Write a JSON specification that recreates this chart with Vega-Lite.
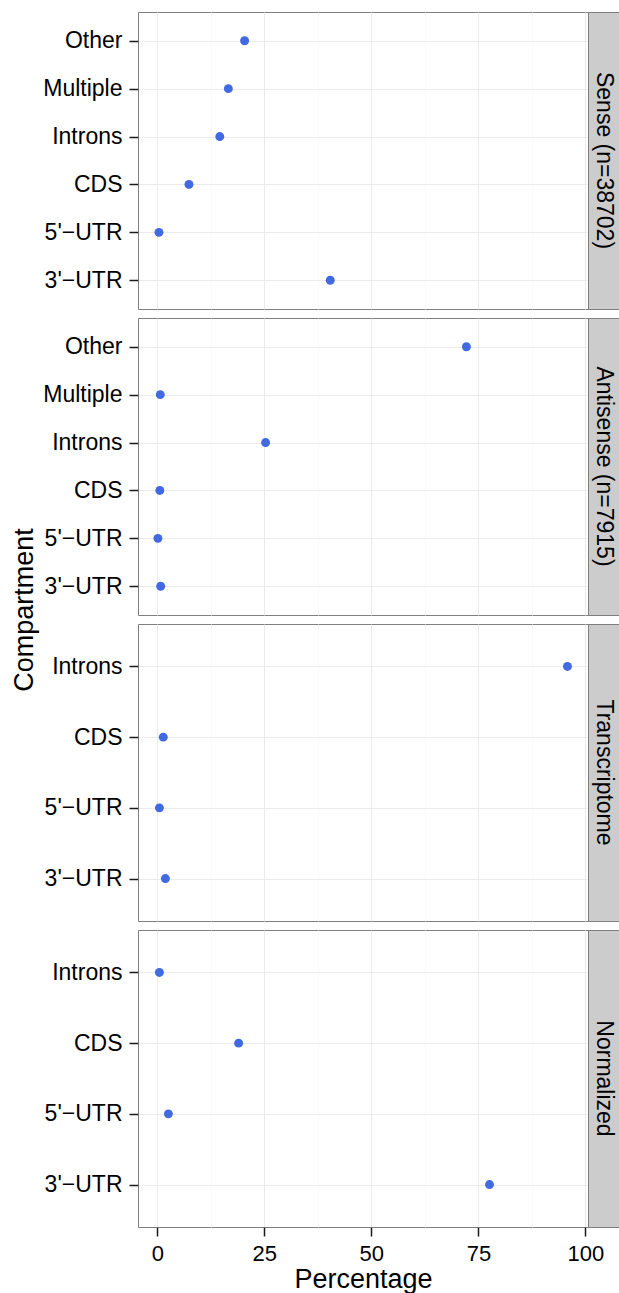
{
  "$schema": "https://vega.github.io/schema/vega-lite/v6.json",
  "padding": {"left": 10, "top": 11, "right": 0, "bottom": 0},
  "background": "white",
  "title": {"text": "Compartment", "orient": "left", "anchor": "middle", "fontSize": 27, "fontWeight": "normal", "font": "Liberation Sans", "color": "#000000", "offset": 3, "dx": 42},
  "datasets": {
    "pts": [
      {"panel": "Sense", "compartment": "Other", "pct": 20.4},
      {"panel": "Sense", "compartment": "Multiple", "pct": 16.6},
      {"panel": "Sense", "compartment": "Introns", "pct": 14.6},
      {"panel": "Sense", "compartment": "CDS", "pct": 7.4},
      {"panel": "Sense", "compartment": "5'−UTR", "pct": 0.4},
      {"panel": "Sense", "compartment": "3'−UTR", "pct": 40.4},
      {"panel": "Antisense", "compartment": "Other", "pct": 72.2},
      {"panel": "Antisense", "compartment": "Multiple", "pct": 0.7},
      {"panel": "Antisense", "compartment": "Introns", "pct": 25.3},
      {"panel": "Antisense", "compartment": "CDS", "pct": 0.6},
      {"panel": "Antisense", "compartment": "5'−UTR", "pct": 0.15},
      {"panel": "Antisense", "compartment": "3'−UTR", "pct": 0.8},
      {"panel": "Transcriptome", "compartment": "Introns", "pct": 95.8},
      {"panel": "Transcriptome", "compartment": "CDS", "pct": 1.4},
      {"panel": "Transcriptome", "compartment": "5'−UTR", "pct": 0.5},
      {"panel": "Transcriptome", "compartment": "3'−UTR", "pct": 1.9},
      {"panel": "Normalized", "compartment": "Introns", "pct": 0.5},
      {"panel": "Normalized", "compartment": "CDS", "pct": 19.0},
      {"panel": "Normalized", "compartment": "5'−UTR", "pct": 2.6},
      {"panel": "Normalized", "compartment": "3'−UTR", "pct": 77.6}
    ],
    "strips": [
      {"panel": "Sense", "label": "Sense (n=38702)"},
      {"panel": "Antisense", "label": "Antisense (n=7915)"},
      {"panel": "Transcriptome", "label": "Transcriptome"},
      {"panel": "Normalized", "label": "Normalized"}
    ]
  },
  "spacing": 7,
  "vconcat": [
    {
      "spacing": 0,
      "bounds": "flush",
      "hconcat": [
        {
          "width": 450, "height": 297,
          "data": {"name": "pts"},
          "transform": [{"filter": "datum.panel === 'Sense'"}],
          "mark": {"type": "circle", "size": 80, "color": "#4169E1", "opacity": 1},
          "encoding": {
            "x": {"field": "pct", "type": "quantitative", "scale": {"domain": [-4.5, 100.6], "nice": false, "zero": false},
                  "axis": {"values": [0, 12.5, 25, 37.5, 50, 62.5, 75, 87.5, 100], "grid": true, "gridColor": {"condition": {"test": "datum.value % 25 !== 0", "value": "#FAFAFA"}, "value": "#EBEBEB"}, "labels": false, "ticks": false, "domain": false, "title": null}},
            "y": {"field": "compartment", "type": "nominal", "scale": {"type": "point", "padding": 0.6, "domain": ["Other", "Multiple", "Introns", "CDS", "5'−UTR", "3'−UTR"]},
                  "axis": {"title": null, "labelFontSize": 23, "labelColor": "#000000", "tickColor": "#1a1a1a", "tickSize": 9, "labelPadding": 7, "domain": false, "grid": true, "gridColor": "#EBEBEB", "minExtent": 96, "maxExtent": 96}}
          }
        },
        {
          "width": 31, "height": 297,
          "view": {"fill": "#CCCCCC", "stroke": "#7F7F7F"},
          "data": {"name": "strips"},
          "transform": [{"filter": "datum.panel === 'Sense'"}],
          "mark": {"type": "text", "angle": 90, "fontSize": 23, "align": "center", "baseline": "middle", "color": "#000000"},
          "encoding": {"text": {"field": "label"}}
        }
      ]
    },
    {
      "spacing": 0,
      "bounds": "flush",
      "hconcat": [
        {
          "width": 450, "height": 297,
          "data": {"name": "pts"},
          "transform": [{"filter": "datum.panel === 'Antisense'"}],
          "mark": {"type": "circle", "size": 80, "color": "#4169E1", "opacity": 1},
          "encoding": {
            "x": {"field": "pct", "type": "quantitative", "scale": {"domain": [-4.5, 100.6], "nice": false, "zero": false},
                  "axis": {"values": [0, 12.5, 25, 37.5, 50, 62.5, 75, 87.5, 100], "grid": true, "gridColor": {"condition": {"test": "datum.value % 25 !== 0", "value": "#FAFAFA"}, "value": "#EBEBEB"}, "labels": false, "ticks": false, "domain": false, "title": null}},
            "y": {"field": "compartment", "type": "nominal", "scale": {"type": "point", "padding": 0.6, "domain": ["Other", "Multiple", "Introns", "CDS", "5'−UTR", "3'−UTR"]},
                  "axis": {"title": null, "labelFontSize": 23, "labelColor": "#000000", "tickColor": "#1a1a1a", "tickSize": 9, "labelPadding": 7, "domain": false, "grid": true, "gridColor": "#EBEBEB", "minExtent": 96, "maxExtent": 96}}
          }
        },
        {
          "width": 31, "height": 297,
          "view": {"fill": "#CCCCCC", "stroke": "#7F7F7F"},
          "data": {"name": "strips"},
          "transform": [{"filter": "datum.panel === 'Antisense'"}],
          "mark": {"type": "text", "angle": 90, "fontSize": 23, "align": "center", "baseline": "middle", "color": "#000000"},
          "encoding": {"text": {"field": "label"}}
        }
      ]
    },
    {
      "spacing": 0,
      "bounds": "flush",
      "hconcat": [
        {
          "width": 450, "height": 297,
          "data": {"name": "pts"},
          "transform": [{"filter": "datum.panel === 'Transcriptome'"}],
          "mark": {"type": "circle", "size": 80, "color": "#4169E1", "opacity": 1},
          "encoding": {
            "x": {"field": "pct", "type": "quantitative", "scale": {"domain": [-4.5, 100.6], "nice": false, "zero": false},
                  "axis": {"values": [0, 12.5, 25, 37.5, 50, 62.5, 75, 87.5, 100], "grid": true, "gridColor": {"condition": {"test": "datum.value % 25 !== 0", "value": "#FAFAFA"}, "value": "#EBEBEB"}, "labels": false, "ticks": false, "domain": false, "title": null}},
            "y": {"field": "compartment", "type": "nominal", "scale": {"type": "point", "padding": 0.6, "domain": ["Introns", "CDS", "5'−UTR", "3'−UTR"]},
                  "axis": {"title": null, "labelFontSize": 23, "labelColor": "#000000", "tickColor": "#1a1a1a", "tickSize": 9, "labelPadding": 7, "domain": false, "grid": true, "gridColor": "#EBEBEB", "minExtent": 96, "maxExtent": 96}}
          }
        },
        {
          "width": 31, "height": 297,
          "view": {"fill": "#CCCCCC", "stroke": "#7F7F7F"},
          "data": {"name": "strips"},
          "transform": [{"filter": "datum.panel === 'Transcriptome'"}],
          "mark": {"type": "text", "angle": 90, "fontSize": 23, "align": "center", "baseline": "middle", "color": "#000000"},
          "encoding": {"text": {"field": "label"}}
        }
      ]
    },
    {
      "spacing": 0,
      "bounds": "flush",
      "hconcat": [
        {
          "width": 450, "height": 297,
          "data": {"name": "pts"},
          "transform": [{"filter": "datum.panel === 'Normalized'"}],
          "mark": {"type": "circle", "size": 80, "color": "#4169E1", "opacity": 1},
          "encoding": {
            "x": {"field": "pct", "type": "quantitative", "scale": {"domain": [-4.5, 100.6], "nice": false, "zero": false},
                  "axis": {"values": [0, 12.5, 25, 37.5, 50, 62.5, 75, 87.5, 100], "grid": true, "gridColor": {"condition": {"test": "datum.value % 25 !== 0", "value": "#FAFAFA"}, "value": "#EBEBEB"}, "labels": true, "labelExpr": "datum.value % 25 === 0 ? datum.label : ''", "labelFlush": false, "labelFontSize": 22, "labelColor": "#000000", "labelPadding": 7, "ticks": true, "tickSize": 9, "tickColor": "#1a1a1a", "tickOpacity": {"condition": {"test": "datum.value % 25 !== 0", "value": 0}, "value": 1}, "domain": false, "title": "Percentage", "titleFontSize": 27, "titleFontWeight": "normal", "titleColor": "#000000", "titlePadding": 2}},
            "y": {"field": "compartment", "type": "nominal", "scale": {"type": "point", "padding": 0.6, "domain": ["Introns", "CDS", "5'−UTR", "3'−UTR"]},
                  "axis": {"title": null, "labelFontSize": 23, "labelColor": "#000000", "tickColor": "#1a1a1a", "tickSize": 9, "labelPadding": 7, "domain": false, "grid": true, "gridColor": "#EBEBEB", "minExtent": 96, "maxExtent": 96}}
          }
        },
        {
          "width": 31, "height": 297,
          "view": {"fill": "#CCCCCC", "stroke": "#7F7F7F"},
          "data": {"name": "strips"},
          "transform": [{"filter": "datum.panel === 'Normalized'"}],
          "mark": {"type": "text", "angle": 90, "fontSize": 23, "align": "center", "baseline": "middle", "color": "#000000"},
          "encoding": {"text": {"field": "label"}}
        }
      ]
    }
  ],
  "config": {
    "font": "Liberation Sans",
    "view": {"stroke": "#7F7F7F", "strokeWidth": 1},
    "axis": {"labelFont": "Liberation Sans", "titleFont": "Liberation Sans", "gridWidth": 1, "tickWidth": 1.5}
  }
}
